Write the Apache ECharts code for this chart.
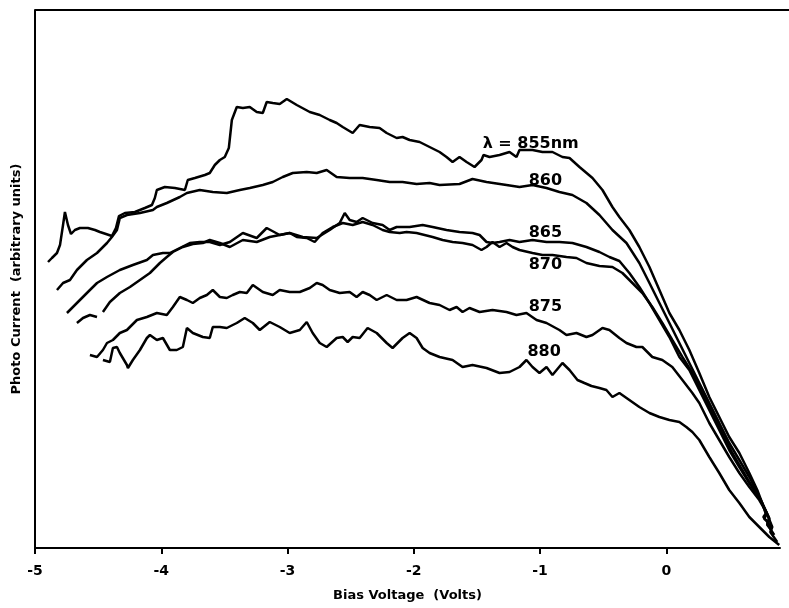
<!DOCTYPE html>
<html>
<head>
<meta charset="utf-8">
<script src="https://cdn.jsdelivr.net/npm/echarts@6/dist/echarts.min.js"></script>
<style>
html,body{margin:0;padding:0;background:#fff;}
#chart{width:789px;height:608px;}
</style>
</head>
<body>
<div id="chart"></div>
<script>
// x tick labels (Bias Voltage, Volts)
var xTicks = [-5, -4, -3, -2, -1, 0];
var seriesNames = ['855', '860', '865', '870', '875', '880'];
var labelTexts = ['\u03bb = 855nm', '860', '865', '870', '875', '880'];

// [bias voltage (V), photo current (arbitrary units)]
var v855 = [[-4.897,57.2],[-4.866,58],[-4.826,59],[-4.802,60.6],[-4.778,64.6],[-4.763,67.2],[-4.739,64.6],[-4.715,62.8],[-4.684,63.6],[-4.644,64],[-4.581,64],[-4.525,63.6],[-4.486,63.2],[-4.438,62.8],[-4.391,62.4],[-4.359,64],[-4.335,66.4],[-4.288,67],[-4.209,67.2],[-4.130,68],[-4.074,68.6],[-4.051,70],[-4.035,71.6],[-3.972,72.2],[-3.892,72],[-3.813,71.6],[-3.790,73.6],[-3.734,74],[-3.655,74.6],[-3.616,75],[-3.576,76.6],[-3.536,77.6],[-3.497,78.2],[-3.465,80],[-3.441,85.6],[-3.402,88.2],[-3.354,88],[-3.299,88.2],[-3.244,87.2],[-3.196,87],[-3.165,89.2],[-3.117,89],[-3.062,88.8],[-3.006,89.8],[-2.927,88.6],[-2.824,87.2],[-2.745,86.6],[-2.666,85.6],[-2.611,85],[-2.563,84.2],[-2.484,83],[-2.429,84.6],[-2.350,84.2],[-2.271,84],[-2.215,83],[-2.136,82],[-2.089,82.2],[-2.033,81.6],[-1.954,81.2],[-1.875,80.2],[-1.796,79.2],[-1.741,78.2],[-1.693,77.2],[-1.638,78.2],[-1.582,77.2],[-1.519,76.2],[-1.464,77.6],[-1.448,78.6],[-1.400,78.2],[-1.321,78.6],[-1.242,79.2],[-1.187,78.2],[-1.163,79.6],[-1.060,79.6],[-0.981,79.2],[-0.902,79.2],[-0.823,78.2],[-0.767,78],[-0.688,76.2],[-0.585,74],[-0.506,71.6],[-0.427,68.2],[-0.372,66.2],[-0.293,63.6],[-0.214,60.2],[-0.134,56.2],[-0.055,51.6],[0.024,47],[0.103,43.6],[0.182,39.6],[0.261,35],[0.340,30.2],[0.419,26.2],[0.498,22.2],[0.578,19],[0.657,15],[0.720,11.6],[0.759,9],[0.791,6.6],[0.775,5.8],[0.815,5.2]];

var v860 = [[-4.826,51.6],[-4.778,53],[-4.723,53.6],[-4.668,55.6],[-4.589,57.6],[-4.509,59],[-4.430,61],[-4.391,62.2],[-4.351,63.6],[-4.328,66],[-4.272,66.6],[-4.169,67],[-4.066,67.6],[-4.035,68.2],[-3.956,69],[-3.853,70.2],[-3.797,71],[-3.695,71.6],[-3.592,71.2],[-3.481,71],[-3.378,71.6],[-3.299,72],[-3.196,72.6],[-3.117,73.2],[-3.038,74.2],[-2.959,75],[-2.848,75.2],[-2.769,75],[-2.690,75.6],[-2.611,74.2],[-2.508,74],[-2.405,74],[-2.294,73.6],[-2.191,73.2],[-2.089,73.2],[-1.978,72.8],[-1.875,73],[-1.796,72.6],[-1.638,72.8],[-1.535,73.8],[-1.424,73.2],[-1.266,72.6],[-1.163,72.2],[-1.060,72.6],[-0.949,72],[-0.847,71.2],[-0.744,70.6],[-0.633,69],[-0.530,66.6],[-0.427,63.6],[-0.316,61],[-0.214,57],[-0.134,53],[-0.055,49],[0.024,45],[0.103,41],[0.182,37],[0.261,33],[0.340,29],[0.419,25],[0.498,21],[0.578,17.6],[0.657,14.2],[0.736,10.2],[0.791,7],[0.768,6.2],[0.831,4.2]];

var v865 = [[-4.747,47],[-4.668,49],[-4.589,51],[-4.509,53],[-4.430,54.2],[-4.328,55.6],[-4.225,56.6],[-4.114,57.6],[-4.066,58.6],[-3.987,59],[-3.932,59],[-3.853,60],[-3.774,61],[-3.695,61.2],[-3.616,61.2],[-3.536,60.6],[-3.457,61.2],[-3.354,63],[-3.244,62],[-3.165,64],[-3.062,62.6],[-2.983,63],[-2.880,62.2],[-2.769,62],[-2.666,63.6],[-2.587,65],[-2.547,67],[-2.508,65.6],[-2.453,65.2],[-2.405,66],[-2.326,65],[-2.247,64.6],[-2.191,63.6],[-2.136,64.2],[-2.033,64.2],[-1.930,64.6],[-1.851,64.2],[-1.741,63.6],[-1.638,63.2],[-1.535,63],[-1.479,62.6],[-1.424,61.2],[-1.377,61],[-1.321,61.2],[-1.242,61.6],[-1.163,61.2],[-1.060,61.6],[-0.949,61.2],[-0.847,61.2],[-0.744,61],[-0.633,60.2],[-0.530,59.2],[-0.451,58.2],[-0.372,57.4],[-0.293,55],[-0.214,52.2],[-0.134,49],[-0.055,45.6],[0.024,42.2],[0.103,38.2],[0.182,35.6],[0.261,31.6],[0.340,27.6],[0.419,23.6],[0.498,19.6],[0.578,16.2],[0.657,13],[0.736,10.2],[0.791,7.2],[0.815,5.8],[0.799,4.6],[0.831,3.6]];

var v870 = [[-4.668,45],[-4.620,46],[-4.565,46.6],[-4.509,46.2],[-4.486,'-'],[-4.462,47.2],[-4.407,49.2],[-4.328,51],[-4.248,52.2],[-4.169,53.6],[-4.090,55],[-4.011,57],[-3.956,58.2],[-3.908,59.2],[-3.829,60.2],[-3.750,60.8],[-3.671,61],[-3.616,61.6],[-3.536,61],[-3.457,60.2],[-3.354,61.6],[-3.244,61.2],[-3.141,62.2],[-3.062,62.6],[-2.983,63],[-2.927,62.2],[-2.848,62],[-2.785,61.2],[-2.722,63],[-2.642,64.2],[-2.563,65],[-2.484,64.6],[-2.405,65.2],[-2.326,64.6],[-2.247,63.6],[-2.191,63.2],[-2.112,63],[-2.057,63.2],[-1.978,63],[-1.851,62.2],[-1.772,61.6],[-1.693,61.2],[-1.614,61],[-1.535,60.6],[-1.464,59.6],[-1.424,60.2],[-1.377,61.2],[-1.321,60.2],[-1.266,61],[-1.218,60.2],[-1.163,59.6],[-1.060,59],[-0.981,58.6],[-0.902,58.6],[-0.791,58.2],[-0.712,58],[-0.633,57],[-0.530,56.4],[-0.427,56.2],[-0.348,55],[-0.269,53],[-0.190,51],[-0.111,48.2],[-0.032,45],[0.047,41.6],[0.127,38.2],[0.206,35],[0.285,31],[0.364,27],[0.443,23],[0.522,19],[0.601,15.6],[0.680,12.2],[0.759,9],[0.815,6],[0.799,4.8],[0.854,2.6]];

var v875 = [[-4.565,38.6],[-4.509,38.2],[-4.462,39.6],[-4.430,41],[-4.383,41.6],[-4.328,43],[-4.272,43.6],[-4.193,45.6],[-4.114,46.2],[-4.035,47],[-3.956,46.6],[-3.908,48.2],[-3.853,50.2],[-3.797,49.6],[-3.750,49],[-3.695,50],[-3.639,50.6],[-3.592,51.6],[-3.536,50.2],[-3.481,50],[-3.434,50.6],[-3.378,51.2],[-3.323,51],[-3.275,52.6],[-3.196,51.2],[-3.117,50.6],[-3.062,51.6],[-2.983,51.2],[-2.903,51.2],[-2.824,52],[-2.769,53],[-2.722,52.6],[-2.666,51.6],[-2.587,51],[-2.508,51.2],[-2.453,50.2],[-2.405,51.2],[-2.350,50.6],[-2.294,49.6],[-2.215,50.6],[-2.136,49.6],[-2.057,49.6],[-1.978,50.2],[-1.875,49],[-1.796,48.6],[-1.717,47.6],[-1.661,48.2],[-1.614,47.2],[-1.559,48],[-1.479,47.2],[-1.377,47.6],[-1.266,47.2],[-1.187,46.6],[-1.108,47],[-1.028,45.6],[-0.949,45],[-0.847,43.6],[-0.791,42.6],[-0.712,43],[-0.633,42.2],[-0.585,42.6],[-0.506,44],[-0.451,43.6],[-0.372,42],[-0.316,41],[-0.237,40.2],[-0.190,40.2],[-0.111,38.2],[-0.032,37.6],[0.047,36.2],[0.127,33.6],[0.206,31],[0.261,29],[0.340,25],[0.419,21.6],[0.498,18.2],[0.578,15],[0.657,12.2],[0.736,9.6],[0.791,7.2],[0.839,4.2],[0.823,3.2],[0.878,1.2]];

var v880 = [[-4.462,37.6],[-4.407,37.2],[-4.383,40],[-4.351,40.2],[-4.328,39],[-4.272,36.6],[-4.264,36],[-4.225,37.6],[-4.169,39.6],[-4.114,42],[-4.090,42.6],[-4.035,41.6],[-3.987,42],[-3.932,39.6],[-3.877,39.6],[-3.829,40.2],[-3.797,44],[-3.750,43],[-3.671,42.2],[-3.616,42],[-3.592,44.2],[-3.536,44.2],[-3.481,44],[-3.434,44.6],[-3.402,45],[-3.339,46],[-3.275,45],[-3.220,43.6],[-3.141,45.2],[-3.062,44.2],[-2.983,43],[-2.903,43.6],[-2.848,45.2],[-2.801,43],[-2.745,41],[-2.690,40.2],[-2.611,42],[-2.563,42.2],[-2.524,41.2],[-2.484,42.2],[-2.429,42],[-2.366,44],[-2.294,43],[-2.215,41],[-2.168,40],[-2.089,42],[-2.033,43],[-1.978,42],[-1.930,40],[-1.875,39],[-1.796,38.2],[-1.693,37.6],[-1.614,36.2],[-1.535,36.6],[-1.424,36],[-1.321,35],[-1.242,35.2],[-1.163,36.2],[-1.108,37.6],[-1.060,36.2],[-1.005,35],[-0.949,36.2],[-0.902,34.6],[-0.823,37],[-0.767,35.6],[-0.704,33.6],[-0.649,33],[-0.593,32.4],[-0.530,32],[-0.475,31.6],[-0.427,30.2],[-0.372,31],[-0.293,29.6],[-0.214,28.2],[-0.134,27],[-0.055,26.2],[0.024,25.6],[0.103,25.2],[0.158,24.2],[0.206,23.2],[0.261,21.6],[0.340,18.2],[0.419,15],[0.498,11.6],[0.578,9],[0.657,6.2],[0.736,4.2],[0.815,2.2],[0.894,0.6]];

var allData = [v855, v860, v865, v870, v875, v880];
// label anchor positions in data units [x, y]
var labelPos = [[-1.455, 80.8], [-1.09, 73.4], [-1.09, 63.0], [-1.09, 56.6], [-1.09, 48.2], [-1.10, 39.2]];

var chart = echarts.init(document.getElementById('chart'));
var FONT = 'DejaVu Sans';

var series = allData.map(function (d, i) {
  return {
    name: seriesNames[i],
    type: 'line',
    data: d,
    showSymbol: false,
    symbol: 'none',
    connectNulls: false,
    lineStyle: { color: '#000', width: 2.5 },
    silent: true,
    z: 3
  };
});

series.push({
  name: 'labels',
  type: 'scatter',
  data: labelPos.map(function (p, i) { return { value: p, name: labelTexts[i] }; }),
  symbolSize: 0,
  silent: true,
  itemStyle: { opacity: 1, color: '#000' },
  label: {
    show: true,
    position: 'right',
    distance: 0,
    formatter: function (p) { return p.name; },
    color: '#000',
    opacity: 1,
    textBorderWidth: 0,
    fontFamily: FONT,
    fontWeight: 'bold',
    fontSize: 16
  },
  z: 5
});

chart.setOption({
  animation: false,
  backgroundColor: '#fff',
  grid: { left: 35, right: 9, top: 10, bottom: 60 },
  xAxis: {
    type: 'value',
    min: -5,
    max: 0.9,
    interval: 1,
    name: 'Bias Voltage  (Volts)',
    nameLocation: 'middle',
    nameGap: 41,
    nameTextStyle: { fontFamily: FONT, fontWeight: 'bold', fontSize: 13, color: '#000' },
    axisLine: { show: true, onZero: false, lineStyle: { color: '#000', width: 2 } },
    axisTick: { show: true, inside: false, length: 6, lineStyle: { color: '#000', width: 2 } },
    axisLabel: {
      color: '#000', fontFamily: FONT, fontWeight: 'bold', fontSize: 14, margin: 16,
      formatter: function (v) { return xTicks.indexOf(v) >= 0 ? String(v) : ''; },
      showMaxLabel: false
    },
    splitLine: { show: false }
  },
  yAxis: {
    type: 'value',
    min: 0,
    max: 107.6,
    name: 'Photo Current  (arbitrary units)',
    nameLocation: 'middle',
    nameRotate: 90,
    nameGap: 12,
    nameTextStyle: { fontFamily: FONT, fontWeight: 'bold', fontSize: 13, color: '#000' },
    axisLine: { show: true, onZero: false, lineStyle: { color: '#000', width: 2 } },
    axisTick: { show: false },
    axisLabel: { show: false },
    splitLine: { show: false }
  },
  graphic: [{
    type: 'line',
    shape: { x1: 35, y1: 10, x2: 789, y2: 10 },
    style: { stroke: '#000', lineWidth: 2 },
    silent: true
  }],
  series: series
});
</script>
</body>
</html>
